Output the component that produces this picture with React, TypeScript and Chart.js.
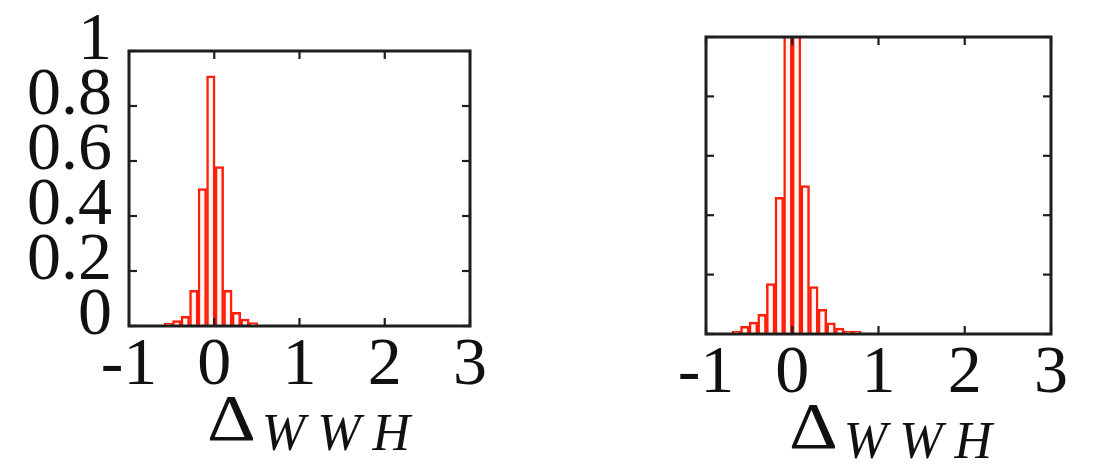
import React, { useEffect, useRef } from "react";
import { Chart, registerables } from "chart.js";

Chart.register(...registerables);

// ---- data ----
const leftBinCenters = [-0.54, -0.44, -0.34, -0.24, -0.14, -0.04, 0.06, 0.16, 0.26, 0.36, 0.46];
const leftValues = [0.01, 0.02, 0.035, 0.13, 0.5, 0.91, 0.58, 0.13, 0.05, 0.025, 0.012];

const rightBinCenters = [-0.65, -0.55, -0.45, -0.35, -0.25, -0.15, -0.05, 0.05, 0.15, 0.25, 0.35, 0.45, 0.55, 0.65, 0.75];
const rightValues = [0.01, 0.026, 0.04, 0.066, 0.17, 0.46, 1.15, 1.2, 0.5, 0.16, 0.083, 0.038, 0.02, 0.01, 0.01];

const xTickValues = [-1, 0, 1, 2, 3];
const yTickLabels = ["0", "0.2", "0.4", "0.6", "0.8", "1"];

const FONT = '"Liberation Serif", "Times New Roman", serif';
const RED = "rgb(255,30,10)";

const frameTicksPlugin = {
  id: "frameTicks",
  afterDatasetsDraw(chart: any) {
    const { ctx, chartArea: a, scales } = chart;
    const L = 8;
    ctx.save();
    ctx.strokeStyle = "#1e1e1e";
    ctx.lineWidth = 2.2;
    const seg = (x1: number, y1: number, x2: number, y2: number) => {
      ctx.beginPath();
      ctx.moveTo(x1, y1);
      ctx.lineTo(x2, y2);
      ctx.stroke();
    };
    scales.x.ticks.forEach((t: any) => {
      const px = scales.x.getPixelForValue(t.value);
      seg(px, a.bottom, px, a.bottom - L);
      seg(px, a.top, px, a.top + L);
    });
    scales.y.ticks.forEach((t: any) => {
      const py = scales.y.getPixelForValue(t.value);
      seg(a.left, py, a.left + L, py);
      seg(a.right, py, a.right - L, py);
    });
    ctx.lineWidth = 3;
    ctx.strokeRect(a.left, a.top, a.right - a.left, a.bottom - a.top);
    ctx.restore();
  },
};

const axisTitlePlugin = {
  id: "axisTitleDelta",
  afterDraw(chart: any, _args: any, opts: any) {
    const { ctx, chartArea: a } = chart;
    const offset = (opts && opts.offset) || 10;
    ctx.save();
    ctx.fillStyle = "#111";
    ctx.textBaseline = "alphabetic";
    ctx.textAlign = "left";
    const sx = 1.15;
    const dFont = `66px ${FONT}`;
    const sFont = `italic 52px ${FONT}`;
    ctx.font = dFont;
    const wD = ctx.measureText("Δ").width * sx;
    ctx.font = sFont;
    (ctx as any).letterSpacing = "12px";
    const wS = ctx.measureText("WWH").width - 12;
    const gap = 6;
    const total = wD + gap + wS;
    const cx = (a.left + a.right) / 2 + offset;
    const x0 = cx - total / 2;
    (ctx as any).letterSpacing = "0px";
    ctx.font = dFont;
    ctx.save();
    ctx.translate(x0, a.bottom + 114);
    ctx.scale(sx, 1);
    ctx.fillText("Δ", 0, 0);
    ctx.restore();
    ctx.font = sFont;
    (ctx as any).letterSpacing = "12px";
    ctx.fillText("WWH", x0 + wD + gap, a.bottom + 124);
    ctx.restore();
  },
};

function makeConfig(centers: number[], values: number[], showY: boolean, pad: any, yWidth: number, xHeight: number, titleOffset: number) {
  return {
    type: "bar" as const,
    data: {
      datasets: [
        {
          data: centers.map((c, i) => ({ x: c, y: values[i] })),
          backgroundColor: "#fff6f4",
          borderColor: RED,
          borderWidth: 2.5,
          barPercentage: 1,
          categoryPercentage: 1,
        },
      ],
    },
    options: {
      animation: false,
      responsive: false,
      maintainAspectRatio: false,
      layout: { padding: pad },
      plugins: {
        legend: { display: false },
        tooltip: { enabled: false },
        axisTitleDelta: { offset: titleOffset },
      },
      scales: {
        x: {
          type: "linear",
          offset: false,
          min: -1,
          max: 3,
          afterBuildTicks: (s: any) => {
            s.ticks = xTickValues.map((v) => ({ value: v }));
          },
          afterFit: (s: any) => {
            s.height = xHeight;
          },
          grid: { display: false, drawTicks: false },
          border: { display: false },
          ticks: {
            padding: -1,
            color: "#111",
            font: { family: FONT, size: 68 },
            maxRotation: 0,
            autoSkip: false,
          },
        },
        y: {
          type: "linear",
          min: 0,
          max: 1,
          afterBuildTicks: (s: any) => {
            s.ticks = yTickLabels.map((_l, i) => ({ value: i * 0.2 }));
          },
          afterFit: (s: any) => {
            s.width = yWidth;
          },
          grid: { display: false, drawTicks: false },
          border: { display: false },
          ticks: {
            display: showY,
            padding: 17,
            labelOffset: -10,
            color: "#111",
            font: { family: FONT, size: 68, lineHeight: 1 },
            autoSkip: false,
            callback: (_v: any, i: number) => yTickLabels[i],
          },
        },
      },
    },
    plugins: [frameTicksPlugin, axisTitlePlugin],
  };
}

function Panel(props: { left: number; width: number; cfg: any }) {
  const ref = useRef<HTMLCanvasElement>(null);
  useEffect(() => {
    if (!ref.current) return;
    const chart = new Chart(ref.current, props.cfg);
    return () => chart.destroy();
  }, []);
  return (
    <canvas
      ref={ref}
      width={props.width}
      height={473}
      style={{ position: "absolute", left: props.left, top: 0, width: props.width, height: 473 }}
    />
  );
}

export default function App() {
  const leftCfg = makeConfig(leftBinCenters, leftValues, true, { top: 39, right: 90, left: 0, bottom: 0 }, 129, 147, 9);
  const rightCfg = makeConfig(rightBinCenters, rightValues, false, { top: 37, right: 44, left: 0, bottom: 0 }, 146, 139, 12);
  return (
    <div style={{ position: "absolute", left: 0, top: 0, width: 1095, height: 473, background: "#fff", overflow: "hidden" }}>
      <Panel left={0} width={560} cfg={leftCfg} />
      <Panel left={560} width={535} cfg={rightCfg} />
    </div>
  );
}
